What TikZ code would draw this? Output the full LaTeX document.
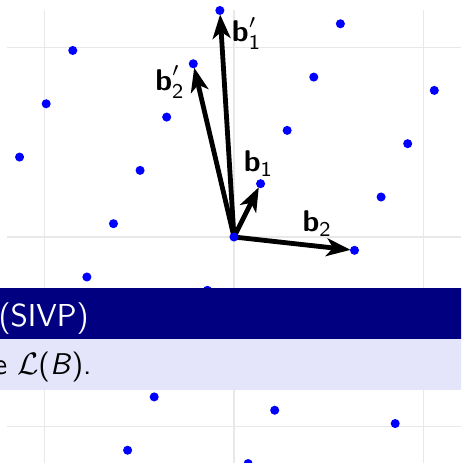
\documentclass[tikz,border=0pt]{standalone}
\usepackage{amsmath,amssymb}
\usepackage{tikz}
\usetikzlibrary{arrows.meta,calc,positioning}

\definecolor{ttlblue}{RGB}{0,0,128}
\definecolor{bdylav}{RGB}{228,228,250}

\begin{document}
\begin{tikzpicture}[
  x=2.35cm, y=2.35cm,
  >={Stealth[length=8.5pt,width=6.3pt,inset=2.3pt]},
  grid/.style = {gray!18, line width=0.45pt},
  vec/.style  = {->, line width=1.7pt, black, shorten >=1.4pt},
  dot/.style  = {fill=blue},
  lbl/.style  = {font=\sffamily\fontsize{10.6}{13}\selectfont, inner sep=0pt},
  ttl/.style  = {fill=ttlblue},
  bdy/.style  = {fill=bdylav},
]
\useasboundingbox (-1.2361,-1.1939) rectangle (1.1992,1.2520);
\clip (-1.2361,-1.1939) rectangle (1.1992,1.2520);

%% ---- grid and basis vectors ----------------------------------------------
\foreach \k in {-1,0,1} {
  \draw[grid] (\k,-1.2) -- (\k,1.2);
  \draw[grid] (-1.2,\k) -- (1.2,\k);
}
\coordinate (O)   at (0,0);
\coordinate (B1)  at (0.1405,0.2816);
\coordinate (B2)  at (0.6366,-0.0703);
\coordinate (B1p) at ($4*(B1)-(B2)$);
\coordinate (B2p) at ($3*(B1)-(B2)$);

\draw[vec] (O) -- (B1);
\draw[vec] (O) -- (B2);
\draw[vec] (O) -- (B1p);
\draw[vec] (O) -- (B2p);

\node[lbl] (lb1)  at (0.130,0.389)  {$\textsf{\bfseries b}_{\textsf{1}}$};
\node[lbl] (lb2)  at (0.440,0.072)  {$\textsf{\bfseries b}_{\textsf{2}}$};
\node[lbl] (lb1p) at (0.067,1.076)  {$\textsf{\bfseries b}'_{\textsf{1}}$};
\node[lbl] (lb2p) at (-0.338,0.820) {$\textsf{\bfseries b}'_{\textsf{2}}$};

%% ---- lattice points ------------------------------------------------------
\begin{scope}
  \clip (-1.17,-1.25) rectangle (1.17,1.23);
  \foreach \i in {-7,...,7} \foreach \j in {-3,...,3}
    \fill[dot] ({\i*0.1405+\j*0.6366},{\i*0.2816-\j*0.0703}) circle (1.6pt);
\end{scope}

%% ---- block ---------------------------------------------------------------
\fill[ttl] (-1.3,-0.272) rectangle (1.3,-0.539);
\fill[bdy] (-1.3,-0.539) rectangle (1.3,-0.808);
\node[lbl, font=\sffamily\fontsize{11.2}{13}\selectfont, text=white,
  anchor=base west] (title) at (-1.247,-0.475) {(SIVP)};
\node[lbl, anchor=base west] (body) at (-1.272,-0.724)
  {e $\mathcal{L}$(\textit{B}).};

\end{tikzpicture}
\end{document}
